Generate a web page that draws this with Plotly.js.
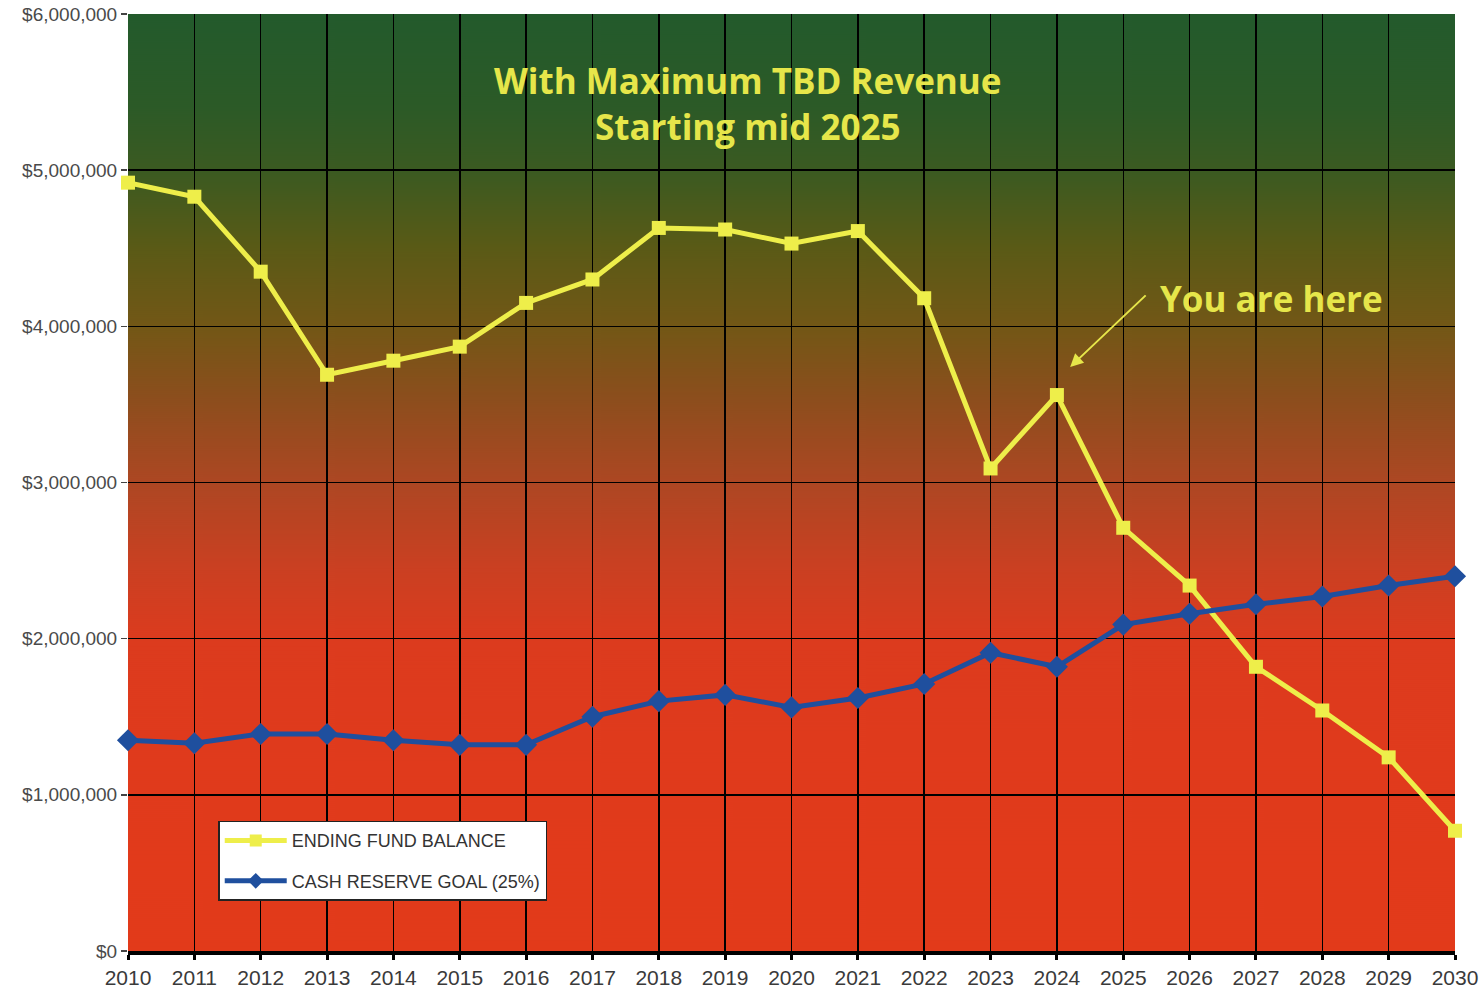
<!DOCTYPE html>
<html>
<head>
<meta charset="utf-8">
<script src="https://cdn.plot.ly/plotly-3.0.1.min.js"></script>
<style>html,body{margin:0;padding:0;background:#fff;}#chart{width:1479px;height:992px;}</style>
</head>
<body>
<div id="chart"></div>
<script>
const years = [2010,2011,2012,2013,2014,2015,2016,2017,2018,2019,2020,2021,2022,2023,2024,2025,2026,2027,2028,2029,2030];
const endingFundBalance = [4920000,4830000,4350000,3690000,3780000,3870000,4150000,4300000,4630000,4620000,4530000,4610000,4180000,3090000,3560000,2710000,2340000,1820000,1540000,1240000,770000];
const cashReserveGoal = [1350000,1330000,1390000,1390000,1350000,1320000,1320000,1500000,1600000,1640000,1560000,1620000,1710000,1910000,1820000,2090000,2160000,2220000,2270000,2340000,2400000];
const seriesNames = ["ENDING FUND BALANCE","CASH RESERVE GOAL (25%)"];
const titleText = "With Maximum TBD Revenue<br>Starting mid 2025";
const noteText = "You are here";

// gradient background image
const cv = document.createElement('canvas');
cv.width = 10; cv.height = 937;
const ctx = cv.getContext('2d');
const g = ctx.createLinearGradient(0,0,0,937);
g.addColorStop(0.00,'#235a2c');
g.addColorStop(0.10,'#2c5a27');
g.addColorStop(0.17,'#3c5a21');
g.addColorStop(0.25,'#5a5a16');
g.addColorStop(0.335,'#735716');
g.addColorStop(0.41,'#8c4e1d');
g.addColorStop(0.50,'#ad4723');
g.addColorStop(0.59,'#ca4022');
g.addColorStop(0.67,'#dc3b1e');
g.addColorStop(0.80,'#e03a1c');
g.addColorStop(1.00,'#e23a1a');
ctx.fillStyle = g; ctx.fillRect(0,0,10,937);
const bgURL = cv.toDataURL('image/png');

const traces = [
  {x: years, y: endingFundBalance, name: seriesNames[0], type:'scatter', mode:'lines+markers',
   line:{color:'#eeee4a', width:5}, marker:{symbol:'square', size:14, color:'#eeee4a'},
   legendgroup:'a', cliponaxis:false},
  {x: years, y: cashReserveGoal, name: seriesNames[1], type:'scatter', mode:'lines+markers',
   line:{color:'#1f4f9e', width:5}, marker:{symbol:'diamond', size:17, color:'#1f4f9e'},
   legendgroup:'b', cliponaxis:false}
];

const layout = {
  width:1479, height:992,
  margin:{l:128, r:24, t:14, b:41},
  paper_bgcolor:'#ffffff',
  plot_bgcolor:'rgba(0,0,0,0)',
  showlegend:true,
  legend:{x:0.068, y:0.139, xanchor:'left', yanchor:'top', bgcolor:'#ffffff', bordercolor:'#222', borderwidth:1.5,
    font:{family:'Liberation Sans, Arial, sans-serif', size:18, color:'#333'},
    traceorder:'grouped', tracegroupgap:14, itemwidth:62, itemsizing:'constant'},
  images:[{source:bgURL, xref:'paper', yref:'paper', x:0, y:1, sizex:1, sizey:1, sizing:'stretch', layer:'below'}],
  xaxis:{range:[2010,2030], tickmode:'array', tickvals:years, ticktext:years.map(String),
    showgrid:true, gridcolor:'#000', gridwidth:1.5,
    showline:true, linecolor:'#000', linewidth:4, ticks:'outside', ticklen:5, tickwidth:3, tickcolor:'#000',
    zeroline:false, fixedrange:true,
    tickfont:{family:'Liberation Sans Narrow, Arial Narrow, Liberation Sans, sans-serif', size:21, color:'#3a3a3a'}},
  yaxis:{range:[0,6000000], dtick:1000000, showgrid:true, gridcolor:'#000', gridwidth:1.5,
    showline:false, ticks:'outside', ticklen:6, tickwidth:1.5, tickcolor:'#444', zeroline:false,
    tickprefix:'$', tickformat:',d', fixedrange:true,
    tickfont:{family:'Liberation Sans, Arial, sans-serif', size:19, color:'#4a4a4a'}},
  annotations:[
    {xref:'paper', yref:'paper', x:0.467, y:0.905, xanchor:'center', yanchor:'middle', text:titleText, showarrow:false,
     font:{family:'Open Sans, sans-serif', size:35, color:'#e6e64a', weight:'bold'}},
    {x:2024.2, y:3740000, ax:77, ay:-73, text:'', showarrow:true,
     arrowhead:2, arrowsize:1.3, arrowwidth:2, arrowcolor:'#e6e64a'},
    {xref:'paper', yref:'paper', x:0.776, y:0.696, xanchor:'left', yanchor:'middle', text:noteText, showarrow:false,
     font:{family:'Open Sans, sans-serif', size:35, color:'#e6e64a', weight:'bold'}}
  ]
};
Plotly.newPlot('chart', traces, layout, {displayModeBar:false, staticPlot:true});
</script>
</body>
</html>
